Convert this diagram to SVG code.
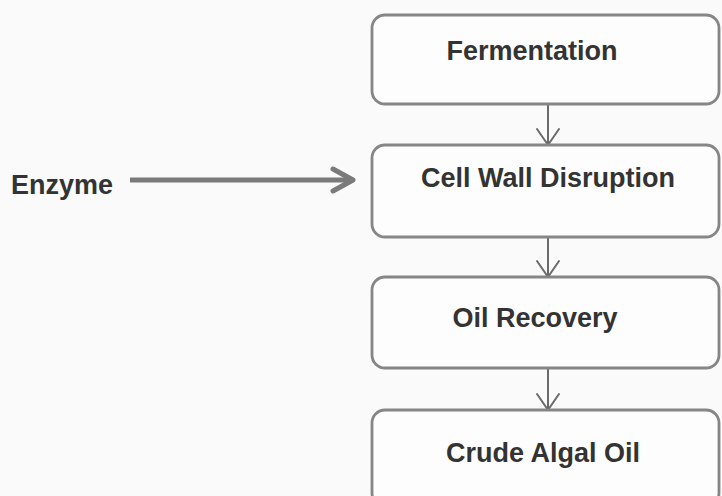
<svg xmlns="http://www.w3.org/2000/svg" width="722" height="496" viewBox="0 0 722 496">
  <style>
    .box { fill: #fdfdfd; stroke: #868686; stroke-width: 2.8; }
    .lbl { font-family: "Liberation Sans", Arial, sans-serif; font-weight: bold; font-size: 27px; fill: #333333; text-anchor: middle; }
    .conn { stroke: #6a6a6a; stroke-width: 2; fill: none; }
    .big { stroke: #7a7a7a; stroke-width: 5; fill: none; }
  </style>
  <defs>
    <marker id="v" markerUnits="userSpaceOnUse" viewBox="-20 -14 24 28" refX="0" refY="0" markerWidth="24" markerHeight="28" orient="auto">
      <path d="M-16,-11 L0,0 L-16,11" fill="none" stroke="#6a6a6a" stroke-width="2" stroke-linejoin="round" stroke-linecap="round"/>
    </marker>
    <marker id="bigv" markerUnits="userSpaceOnUse" viewBox="-26 -16 34 32" refX="-4" refY="0" markerWidth="34" markerHeight="32" orient="auto">
      <path d="M-20,-11 L0,0 L-20,11" fill="none" stroke="#7a7a7a" stroke-width="5" stroke-linejoin="round" stroke-linecap="round"/>
    </marker>
  </defs>
  <rect width="722" height="496" fill="#fafafa"/>

  <g id="connectors">
    <line class="big" x1="130" y1="180" x2="349" y2="180" marker-end="url(#bigv)"/>
    <line class="conn" x1="548" y1="105" x2="548" y2="145" marker-end="url(#v)"/>
    <line class="conn" x1="548" y1="237" x2="548" y2="277" marker-end="url(#v)"/>
    <line class="conn" x1="548" y1="368" x2="548" y2="410" marker-end="url(#v)"/>
  </g>

  <g id="enzyme">
    <text class="lbl" x="62" y="194">Enzyme</text>
  </g>
  <g id="fermentation">
    <rect class="box" x="372" y="15" width="347" height="89" rx="13"/>
    <text class="lbl" x="532" y="60">Fermentation</text>
  </g>
  <g id="cell-wall-disruption">
    <rect class="box" x="372" y="145" width="347" height="92" rx="13"/>
    <text class="lbl" x="548" y="187">Cell Wall Disruption</text>
  </g>
  <g id="oil-recovery">
    <rect class="box" x="372" y="277" width="347" height="91" rx="13"/>
    <text class="lbl" x="535" y="327">Oil Recovery</text>
  </g>
  <g id="crude-algal-oil">
    <rect class="box" x="372" y="410" width="347" height="96" rx="13"/>
    <text class="lbl" x="543" y="462">Crude Algal Oil</text>
  </g>
</svg>
